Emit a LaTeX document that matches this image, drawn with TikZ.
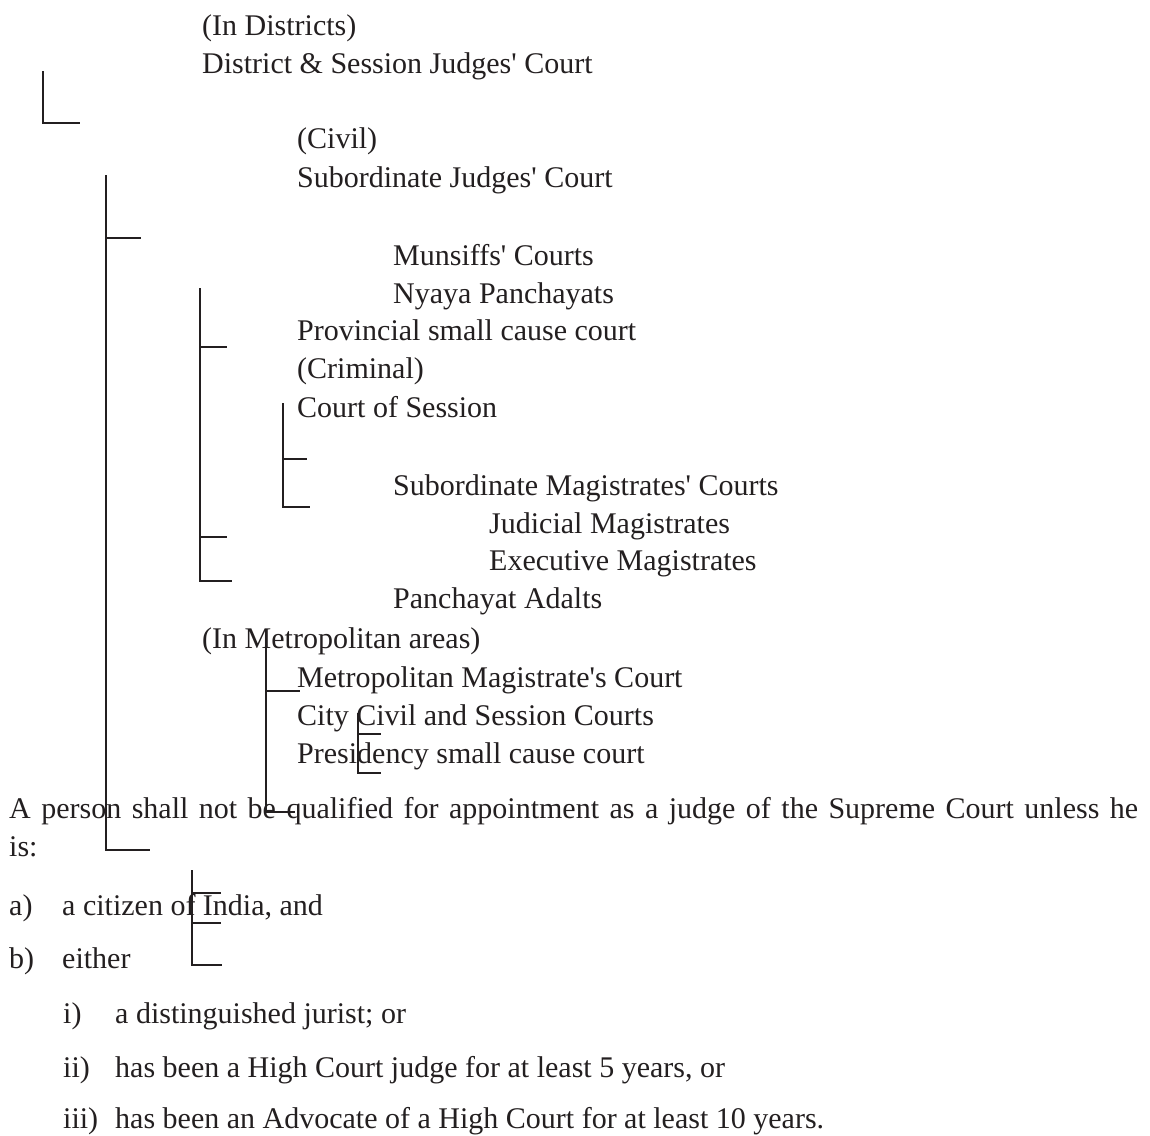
\documentclass[tikz,border=0pt]{standalone}
\usepackage{fontspec}
\setmainfont{Liberation Serif}
\definecolor{ink}{RGB}{35,31,32}
\newcommand{\ap}{\textquotesingle}

\tikzset{
every node/.style={inner sep=0pt,anchor=base west,text=ink,font=\fontsize{30}{36}\selectfont},
rule/.style={draw=ink,line width=2.4pt}
}

\begin{document}
\begin{tikzpicture}[x=1pt,y=-1pt]
\useasboundingbox (0,0) rectangle (1150,1135);

% the courts, one line each
\node (c1) at (202,35) {(In Districts)};
\node (c2) at (202,73) {District \& Session Judges\ap{} Court};
\node (c3) at (297,148) {(Civil)};
\node (c4) at (297,187) {Subordinate Judges\ap{} Court};
\node (c5) at (393,265) {Munsiffs\ap{} Courts};
\node (c6) at (393,303) {Nyaya Panchayats};
\node (c7) at (297,340) {Provincial small cause court};
\node (c8) at (297,378) {(Criminal)};
\node (c9) at (297,417) {Court of Session};
\node (c10) at (393,495) {Subordinate Magistrates\ap{} Courts};
\node (c11) at (489,533) {Judicial Magistrates};
\node (c12) at (489,570) {Executive Magistrates};
\node (c13) at (393,608) {Panchayat Adalts};
\node (c14) at (202,648) {(In Metropolitan areas)};
\node (c15) at (297,687) {Metropolitan Magistrate\ap{}s Court};
\node (c16) at (297,725) {City Civil and Session Courts};
\node (c17) at (297,763) {Presidency small cause court};

% the qualifications
\node (q0) at (9,818) {\makebox[1129pt][s]{A person shall not be qualified for appointment as a judge of the Supreme Court unless he}};
\node (q1) at (9,856) {is:};
\node (qa) at (9,915) {a)};
\node (qa1) at (62,915) {a citizen of India, and};
\node (qb) at (9,968) {b)};
\node (qb1) at (62,968) {either};
\node (qi) at (63,1023) {i)};
\node (qi1) at (115,1023) {a distinguished jurist; or};
\node (qii) at (63,1077) {ii)};
\node (qii1) at (115,1077) {has been a High Court judge for at least 5 years, or};
\node (qiii) at (63,1128) {iii)};
\node (qiii1) at (115,1128) {has been an Advocate of a High Court for at least 10 years.};

% the bracket lines
\draw[rule] (43,71) |- (80,123);
\draw[rule] (106,175) |- (150,850);
\draw[rule] (106,238) -- (141,238);

\draw[rule] (200,288) |- (232,581);
\foreach \y in {347,537}
  \draw[rule] (200,\y) -- (227,\y);

\draw[rule] (283,403) |- (310,507);
\draw[rule] (283,459) -- (307,459);

\draw[rule] (266,645) |- (295,812);
\draw[rule] (266,691) -- (300,691);

\draw[rule] (358,713) |- (381,773);
\draw[rule] (358,734) -- (381,734);

\draw[rule] (192,870) |- (222,965);
\foreach \y in {893,923}
  \draw[rule] (192,\y) -- (221,\y);
\end{tikzpicture}
\end{document}
